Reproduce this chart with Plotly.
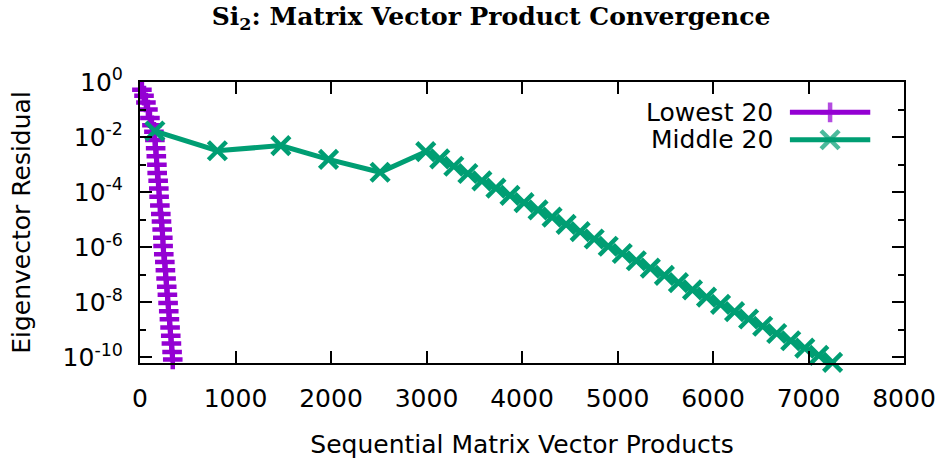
import plotly.graph_objects as go

# ---- data ----
lowest_x = [20, 42, 62, 83, 104, 125, 146, 156, 164, 171, 177, 180,
            190, 197, 200, 208, 218, 225, 232, 239, 242, 249, 260,
            266, 273, 280, 287, 294, 301, 308, 315, 322, 329, 336, 343]
lowest_y = [0.52, 0.32, 0.18, 0.1, 0.049, 0.027, 0.0155, 7.8e-3, 3.9e-3, 2.0e-3, 1.0e-3, 5.0e-4,
            2.6e-4, 1.35e-4, 6.9e-5, 3.3e-5, 1.6e-5, 8.7e-6, 4.4e-6, 2.2e-6, 1.12e-6, 5.6e-7, 2.9e-7,
            1.48e-7, 7.4e-8, 3.7e-8, 1.9e-8, 9.5e-9, 4.8e-9, 2.45e-9, 1.23e-9, 6.2e-10, 3.2e-10,
            1.58e-10, 8.5e-11]

middle_x = [156, 810, 1475, 1974, 2514, 2992,
            3139, 3286, 3433, 3580, 3727, 3874, 4021, 4168, 4315, 4462,
            4609, 4756, 4903, 5050, 5197, 5344, 5491, 5638, 5785, 5932,
            6079, 6226, 6373, 6520, 6667, 6814, 6961, 7108, 7252]
middle_y = [0.0166, 3.2e-3, 4.9e-3, 1.55e-3, 5.3e-4, 2.95e-3,
            1.61e-3, 8.75e-4, 4.76e-4, 2.59e-4, 1.41e-4, 7.69e-5, 4.19e-5, 2.28e-5, 1.24e-5, 6.76e-6,
            3.68e-6, 2.0e-6, 1.09e-6, 5.94e-7, 3.24e-7, 1.76e-7, 9.59e-8, 5.22e-8, 2.84e-8, 1.55e-8,
            8.43e-9, 4.59e-9, 2.5e-9, 1.36e-9, 7.41e-10, 4.04e-10, 2.2e-10, 1.2e-10, 6.6e-11]

series_names = ["Lowest 20", "Middle 20"]
x_ticks = [0, 1000, 2000, 3000, 4000, 5000, 6000, 7000, 8000]
y_major = [1, 1e-2, 1e-4, 1e-6, 1e-8, 1e-10]
y_major_text = ["10<sup>0</sup>", "10<sup>-2</sup>", "10<sup>-4</sup>", "10<sup>-6</sup>",
                "10<sup>-8</sup>", "10<sup>-10</sup>"]
y_minor = [1e-1, 1e-3, 1e-5, 1e-7, 1e-9]

# ---- styles ----
PURPLE = "#9400D3"
GREEN = "#009E73"
FONT = "DejaVu Sans"
LW = 5
MLW = 4.5
MS_CROSS = 14
MS_X = 18

fig = go.Figure()
fig.add_trace(go.Scatter(
    x=lowest_x, y=lowest_y, mode="lines+markers", name=series_names[0],
    line=dict(color=PURPLE, width=LW),
    marker=dict(symbol="cross-thin", size=MS_CROSS, color=PURPLE, line=dict(color=PURPLE, width=MLW)),
    cliponaxis=False, showlegend=False))
fig.add_trace(go.Scatter(
    x=middle_x, y=middle_y, mode="lines+markers", name=series_names[1],
    line=dict(color=GREEN, width=LW),
    marker=dict(symbol="x-thin", size=MS_X, color=GREEN, line=dict(color=GREEN, width=MLW)),
    cliponaxis=False, showlegend=False))

# ---- custom legend (gnuplot style: text left, sample right), pixel-based overlay axes ----
leg_rows = [113, 141]
leg_line = [795, 835.5, 876]
leg_text_x = 780
for i, (col, sym, ms) in enumerate([(PURPLE, "cross-thin", MS_CROSS), (GREEN, "x-thin", MS_X)]):
    fig.add_trace(go.Scatter(
        x=leg_line, y=[leg_rows[i]] * 3, xaxis="x2", yaxis="y2", mode="lines+markers",
        line=dict(color=col, width=LW),
        marker=dict(symbol=sym, size=[0, ms, 0], color=col, line=dict(color=col, width=MLW)),
        showlegend=False, hoverinfo="skip", cliponaxis=False))
    fig.add_annotation(x=leg_text_x, y=leg_rows[i], xref="x2", yref="y2", text=series_names[i],
                       showarrow=False, xanchor="right", yanchor="middle",
                       font=dict(family=FONT, size=25, color="black"))

axis_common = dict(showline=True, linecolor="black", linewidth=2, mirror="ticks",
                   ticks="inside", tickcolor="black", tickwidth=1.5, showgrid=False,
                   zeroline=False, tickfont=dict(family=FONT, size=25, color="black"))

fig.update_layout(
    width=948, height=466,
    margin=dict(l=140, r=38, t=82, b=97),
    paper_bgcolor="white", plot_bgcolor="white",
    title=dict(text="<b>Si<sub>2</sub>: Matrix Vector Product Convergence</b>",
               x=0.518, xanchor="center", y=0.966, yanchor="middle",
               font=dict(family="DejaVu Serif", size=25, color="black")),
    xaxis=dict(range=[0, 8000], tickmode="array", tickvals=x_ticks,
               ticktext=[str(v) for v in x_ticks], ticklen=12, ticklabelstandoff=12,
               title=dict(text="Sequential Matrix Vector Products",
                          font=dict(family=FONT, size=25, color="black"), standoff=23),
               **axis_common),
    yaxis=dict(type="log", range=[-10.2, 0], tickmode="array", tickvals=y_major,
               ticktext=y_major_text, ticklen=12, ticklabelstandoff=10,
               minor=dict(tickmode="array", tickvals=y_minor, ticklen=6, ticks="inside",
                          tickcolor="black", tickwidth=1.5),
               title=dict(text="Eigenvector Residual",
                          font=dict(family=FONT, size=25, color="black"), standoff=25),
               **axis_common),
    xaxis2=dict(overlaying="x", range=[140, 910], visible=False, fixedrange=True),
    yaxis2=dict(overlaying="y", range=[369, 82], visible=False, fixedrange=True),
)

fig.write_html("out.html", config={"displayModeBar": False},
               post_script="document.body.style.margin='0';document.body.style.overflow='hidden';")
